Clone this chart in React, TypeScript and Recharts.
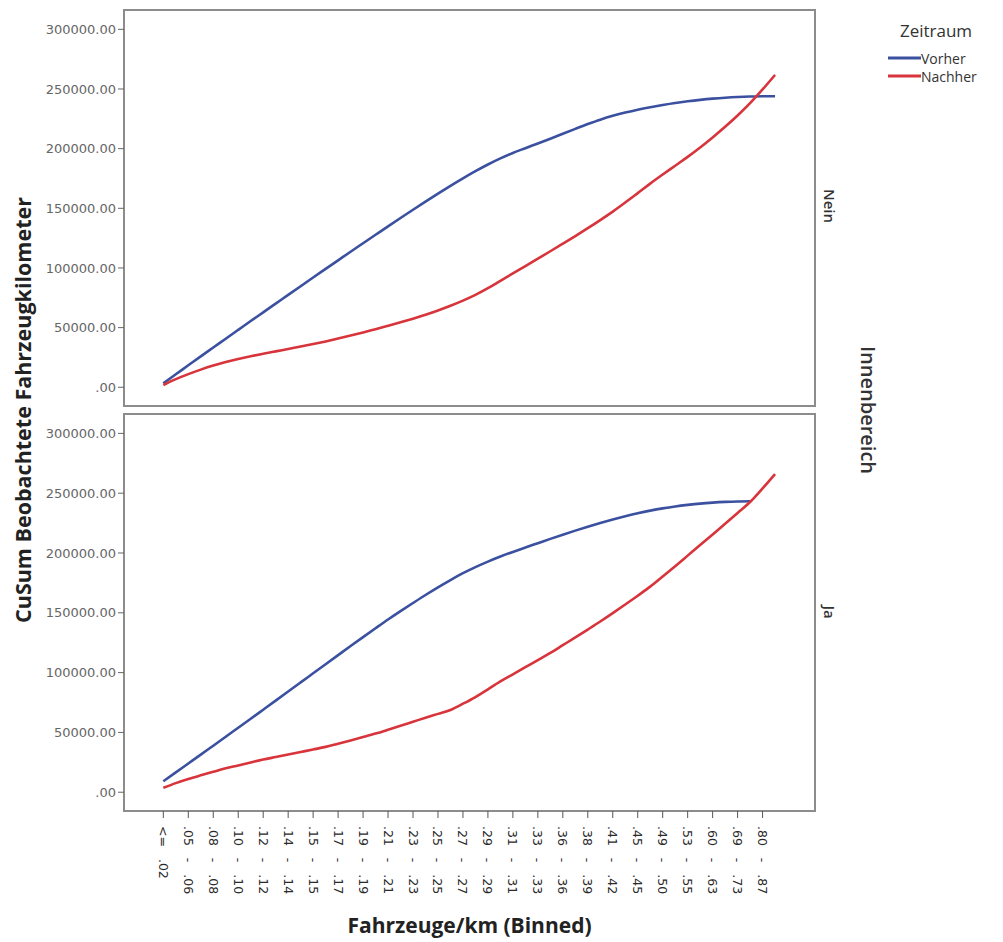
import React from "react";
import { LineChart, Line, XAxis, YAxis, ReferenceArea } from "recharts";

// bin positions along the x axis (50 bins, every other one is labelled)
const binIndex = Array.from({ length: 50 }, (_, i) => i);

const tickLabels = [
  "<= .02", ".05 - .06", ".08 - .08", ".10 - .10", ".12 - .12",
  ".14 - .14", ".15 - .15", ".17 - .17", ".19 - .19", ".21 - .21",
  ".23 - .23", ".25 - .25", ".27 - .27", ".29 - .29", ".31 - .31",
  ".33 - .33", ".36 - .36", ".38 - .39", ".41 - .42", ".45 - .45",
  ".49 - .50", ".53 - .55", ".60 - .63", ".69 - .73", ".80 - .87",
];

const yTicks = [0, 50000, 100000, 150000, 200000, 250000, 300000];

// Innenbereich = Nein
const neinVorher = [
  3400, 10900, 18400, 25900, 33300, 40700, 48100, 55500, 62800, 70100,
  77400, 84700, 92000, 99200, 106400, 113600, 120700, 127800, 134900, 141900,
  148800, 155600, 162300, 168800, 175100, 181100, 186700, 191800, 196400, 200400,
  204300, 208300, 212500, 216600, 220600, 224300, 227500, 230200, 232600, 234700,
  236600, 238300, 239700, 240900, 241900, 242700, 243300, 243700, 243900, 243900,
];
const neinNachher = [
  1900, 6800, 11000, 14800, 18200, 21100, 23700, 26000, 28100, 30100,
  32100, 34100, 36200, 38400, 40800, 43300, 45900, 48700, 51500, 54400,
  57500, 60800, 64400, 68300, 72600, 77400, 83000, 89200, 95400, 101600,
  107800, 114000, 120300, 126700, 133300, 140100, 147200, 154800, 162700, 170700,
  178300, 185700, 193100, 201000, 209400, 218300, 227800, 238100, 249600, 261800,
];

// Innenbereich = Ja
const jaVorher = [
  9200, 16600, 24000, 31400, 38900, 46400, 53900, 61400, 69000, 76600,
  84200, 91800, 99400, 107000, 114600, 122200, 129700, 137100, 144400, 151400,
  158200, 164900, 171300, 177400, 183100, 188200, 192800, 197000, 200900, 204600,
  208200, 211800, 215300, 218700, 222000, 225100, 228000, 230700, 233200, 235400,
  237300, 238900, 240200, 241300, 242100, 242700, 243100, 243300, null, null,
];
const jaNachher = [
  3700, 7600, 11000, 14100, 17100, 20000, 22400, 24900, 27300, 29400,
  31500, 33600, 35700, 37900, 40600, 43300, 46100, 49000, 52200, 55500,
  58900, 62300, 65500, 68800, 74000, 79600, 86000, 92700, 98600, 104500,
  110400, 116400, 122900, 129400, 136000, 142700, 149700, 156900, 164300, 171900,
  180400, 189000, 197800, 206600, 215500, 224400, 233400, 242600, 254000, 266000,
];

const BLUE = "#3b51a0";
const RED = "#d8343c";
const BOX = "#8c8c8c";
const X_DOMAIN: [number, number] = [-3.15, 52.2];
const Y_DOMAIN: [number, number] = [-15700, 316200];

const buildRows = (vorher: (number | null)[], nachher: (number | null)[]) =>
  binIndex.map((i) => ({ i, vorher: vorher[i], nachher: nachher[i] }));

const formatY = (v: number) => (v === 0 ? ".00" : v.toFixed(2));

const BinTick = (props: any) => {
  const { x, y, payload } = props;
  return (
    <text
      x={x}
      y={y}
      transform={`rotate(90, ${x}, ${y})`}
      textAnchor="start"
      dominantBaseline="central"
      fontSize={12.5}
      fill="#2a2a2a"
      fontFamily="DejaVu Sans"
      style={{ wordSpacing: "8px" }}
    >
      {tickLabels[payload.value / 2]}
    </text>
  );
};

function Panel({
  rows,
  top,
  height,
  showX,
}: {
  rows: any[];
  top: number;
  height: number;
  showX: boolean;
}) {
  return (
    <div style={{ position: "absolute", left: 0, top: 0 }}>
      <LineChart
        width={1003}
        height={height}
        data={rows}
        margin={{ top, right: 188, bottom: showX ? 0 : 1, left: 0 }}
      >
        <XAxis
          type="number"
          dataKey="i"
          domain={X_DOMAIN}
          allowDataOverflow
          ticks={binIndex.filter((i) => i % 2 === 0)}
          interval={0}
          hide={!showX}
          height={131}
          axisLine={false}
          tickLine={{ stroke: "#555" }}
          tickSize={7}
          tickMargin={8}
          tick={<BinTick />}
          label={{
            value: "Fahrzeuge/km (Binned)",
            position: "insideBottom",
            offset: 9,
            fontSize: 21,
            fontWeight: 700,
            fill: "#222",
            fontFamily: "Open Sans",
          }}
        />
        <YAxis
          type="number"
          domain={Y_DOMAIN}
          allowDataOverflow
          ticks={yTicks}
          interval={0}
          width={124}
          axisLine={false}
          tickLine={{ stroke: "#666" }}
          tickSize={6}
          tickFormatter={formatY}
          tick={{ fontSize: 13, fill: "#666", fontFamily: "DejaVu Sans" }}
        />
        <ReferenceArea
          x1={X_DOMAIN[0]}
          x2={X_DOMAIN[1]}
          y1={Y_DOMAIN[0]}
          y2={Y_DOMAIN[1]}
          fill="none"
          stroke={BOX}
          strokeWidth={2}
          ifOverflow="visible"
        />
        <Line
          type="monotone"
          dataKey="vorher"
          stroke={BLUE}
          strokeWidth={2.6}
          dot={false}
          isAnimationActive={false}
        />
        <Line
          type="monotone"
          dataKey="nachher"
          stroke={RED}
          strokeWidth={2.6}
          dot={false}
          isAnimationActive={false}
        />
      </LineChart>
    </div>
  );
}

export default function App() {
  return (
    <div
      style={{
        position: "absolute",
        left: 0,
        top: 0,
        width: 1003,
        height: 942,
        background: "#fff",
        fontFamily: "Open Sans, sans-serif",
      }}
    >
      <Panel rows={buildRows(jaVorher, jaNachher)} top={414} height={942} showX />
      <Panel rows={buildRows(neinVorher, neinNachher)} top={10} height={407} showX={false} />

      <svg
        width={1003}
        height={942}
        style={{ position: "absolute", left: 0, top: 0, pointerEvents: "none" }}
      >
        <text
          transform="translate(22, 410) rotate(-90)"
          textAnchor="middle"
          dominantBaseline="central"
          fontSize={21.5}
          fontWeight={700}
          fill="#222"
          fontFamily="Open Sans"
        >
          CuSum Beobachtete Fahrzeugkilometer
        </text>
        <text
          transform="translate(830, 206) rotate(90)"
          textAnchor="middle"
          dominantBaseline="central"
          fontSize={15}
          fontWeight={600}
          fill="#333"
          fontFamily="Open Sans"
        >
          Nein
        </text>
        <text
          transform="translate(830, 612) rotate(90)"
          textAnchor="middle"
          dominantBaseline="central"
          fontSize={15}
          fontWeight={600}
          fill="#333"
          fontFamily="Open Sans"
        >
          Ja
        </text>
        <text
          transform="translate(868, 410) rotate(90)"
          textAnchor="middle"
          dominantBaseline="central"
          fontSize={20}
          fontWeight={600}
          fill="#333"
          fontFamily="Open Sans"
        >
          Innenbereich
        </text>

        {/* legend */}
        <text x={936} y={37} textAnchor="middle" fontSize={17} fill="#333" fontFamily="Open Sans">
          Zeitraum
        </text>
        <line x1={888} x2={921} y1={58} y2={58} stroke={BLUE} strokeWidth={3} />
        <text x={921} y={58} dominantBaseline="central" fontSize={14} fill="#333" fontFamily="Open Sans">
          Vorher
        </text>
        <line x1={888} x2={921} y1={76} y2={76} stroke={RED} strokeWidth={3} />
        <text x={921} y={76} dominantBaseline="central" fontSize={14} fill="#333" fontFamily="Open Sans">
          Nachher
        </text>
      </svg>
    </div>
  );
}
